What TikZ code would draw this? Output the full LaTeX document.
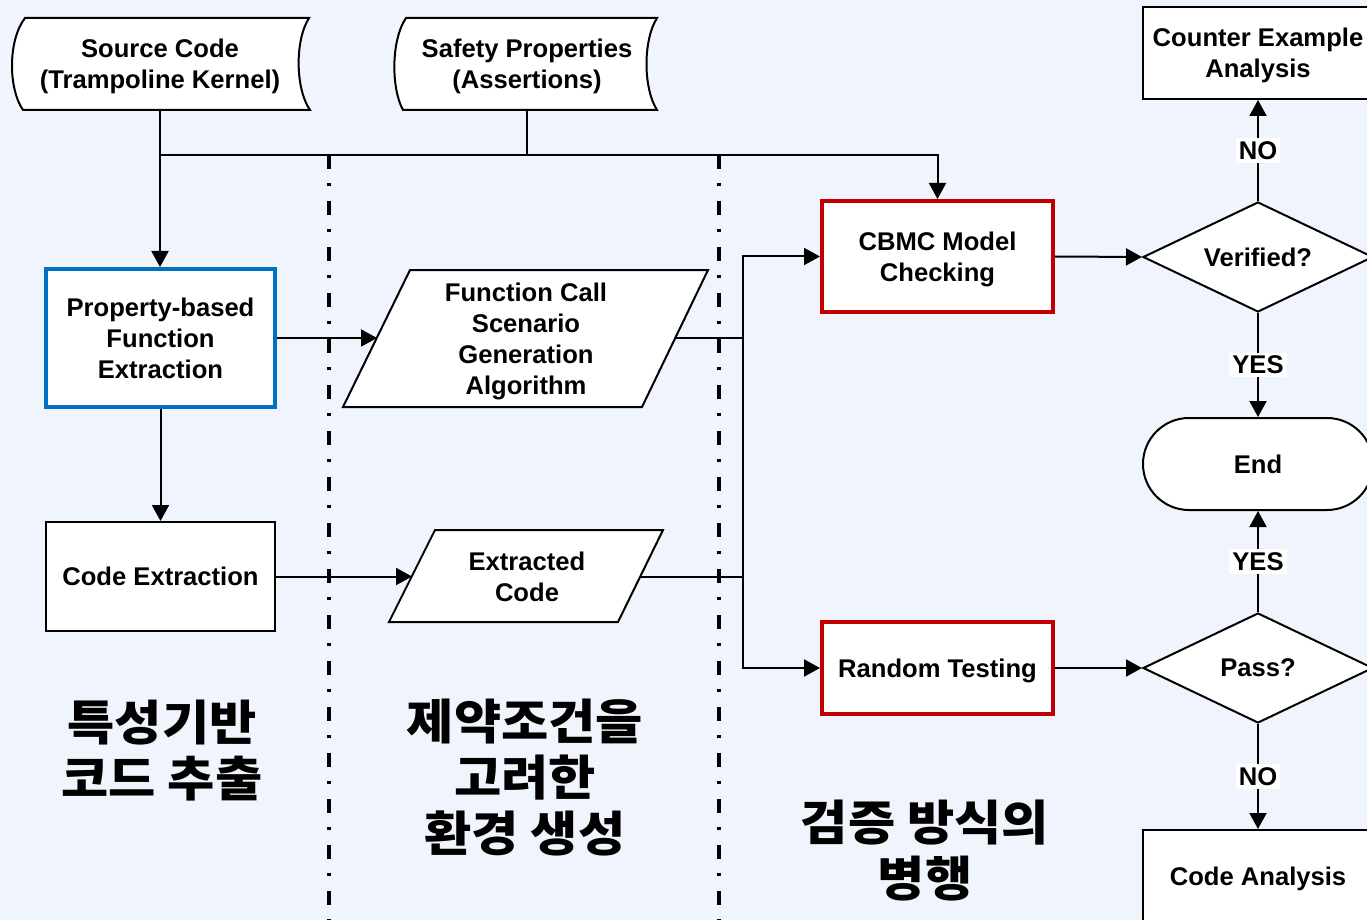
\documentclass[tikz,border=0pt]{standalone}
\usepackage{fontspec}
\setmainfont{Liberation Sans}
\newfontfamily\kr{Noto Sans CJK KR}[FakeStretch=1.07]
\usetikzlibrary{arrows.meta,shapes.geometric,shapes.misc}
\definecolor{bgcol}{RGB}{240,244,252}
\definecolor{boxblue}{RGB}{0,112,192}
\definecolor{boxred}{RGB}{192,0,0}
\begin{document}
\begin{tikzpicture}[x=0.5pt,y=-0.5pt,
  lbl/.style={font=\fontsize{12.8}{15.5}\selectfont\bfseries, align=center},
  proc/.style={lbl, draw=black, line width=1pt, fill=white, inner sep=0pt},
  hl/.style={proc, line width=2pt},
  decide/.style={lbl, diamond, aspect=2, draw=black, line width=1pt, fill=white,
    inner sep=0pt, minimum width=115pt, minimum height=55pt},
  flow/.style={line width=1pt, -{Triangle[length=8pt,width=8.5pt]}},
  link/.style={line width=1pt},
  lane/.style={line width=1.8pt, dash pattern=on 7pt off 7pt on 1.5pt off 7.5pt},
  ans/.style={lbl, fill=white, inner sep=1.5pt},
  title/.style={font=\kr\fontsize{24}{28}\selectfont\bfseries, align=center},
  shapeline/.style={draw=black, line width=1pt, fill=white},
  flat/.style={text depth=0pt}
]
\clip (0,0) rectangle (1367,920);
\fill[bgcol] (0,0) rectangle (1367,920);

% swim-lane separators
\draw[lane] (329,155) -- (329,920);
\draw[lane] (719,155) -- (719,920);

% stored-data inputs
\draw[shapeline] (25,18) -- (309,18) .. controls (295,40) and (295,88) .. (310,110)
  -- (23,110) .. controls (8,88) and (8,40) .. (25,18) -- cycle;
\node[lbl, flat, minimum width=149pt, minimum height=46pt] (src) at (160,64)
  {Source Code\\(Trampoline Kernel)};
\draw[shapeline] (406,18) -- (657,18) .. controls (643,40) and (643,88) .. (657,110)
  -- (403,110) .. controls (391,88) and (391,40) .. (406,18) -- cycle;
\node[lbl, flat, minimum height=46pt] (safe) at (527,64)
  {Safety Properties\\(Assertions)};

% extraction column
\node[hl, draw=boxblue, minimum width=114.5pt, minimum height=69pt] (prop) at (160.5,338)
  {Property-based\\Function\\Extraction};
\node[proc, minimum width=114.5pt, minimum height=54.5pt] (cext) at (160.5,576.5)
  {Code Extraction};

% environment generation column (parallelograms)
\draw[shapeline] (410,270) -- (708,270) -- (642,407) -- (343,407) -- cycle;
\node[lbl, flat] (fc) at (526,338.5) {Function Call\\Scenario\\Generation\\Algorithm};
\coordinate (fc-w) at (377,338);
\coordinate (fc-e) at (675,338);
\draw[shapeline] (435,530) -- (663,530) -- (618,622) -- (389,622) -- cycle;
\node[lbl] (ec) at (527,577) {Extracted\\Code};
\coordinate (ec-w) at (412,576.5);
\coordinate (ec-e) at (640,576.5);

% verification column
\node[hl, flat, draw=boxred, minimum width=115.5pt, minimum height=55.5pt] (cbmc) at (937.5,256.5)
  {CBMC Model\\Checking};
\node[hl, flat, draw=boxred, minimum width=115.5pt, minimum height=46pt] (rand) at (937.5,668)
  {Random Testing};

% decisions and outcomes
\node[decide] (ver) at (1258,257) {Verified?};
\node[proc, flat, minimum width=115pt, minimum height=46pt] (cex) at (1258,53)
  {Counter Example\\Analysis};
\node[proc, rounded rectangle, minimum width=115pt, minimum height=46pt] (end) at (1258,464) {End};
\node[decide] (pass) at (1258,668) {Pass?};
\node[proc, flat, minimum width=115pt, minimum height=46pt] (ca) at (1258,876) {Code Analysis};

% connectors
\coordinate (bus) at (0,155);
\coordinate (vbus) at (743,0);
\draw[flow] (src.south) -- (src.south |- prop.north);
\draw[flow] (src.south |- bus) -| (cbmc.north);
\draw[link] (safe.south) -- (safe.south |- bus);
\draw[flow] (prop.east) -- (fc-w);
\draw[flow] (prop.south) -- (cext.north);
\draw[flow] (cext.east) -- (ec-w);
\draw[link] (fc-e) -- (fc-e -| vbus);
\draw[link] (ec-e) -- (ec-e -| vbus);
\draw[flow] (fc-e -| vbus) |- (cbmc.west);
\draw[flow] (fc-e -| vbus) |- (rand.west);
\draw[flow] (cbmc.east) -- (ver.west);
\draw[flow] (rand.east) -- (pass.west);
\draw[flow] (ver.north) -- node[ans] {NO} (cex.south);
\draw[flow] (ver.south) -- node[ans] {YES} (end.north);
\draw[flow] (pass.north) -- node[ans] {YES} (end.south);
\draw[flow] (pass.south) -- node[ans] {NO} (ca.north);

% lane titles
\node[title] (t1) at (162,751) {특성기반\\코드 추출};
\node[title] (t2) at (525,778) {제약조건을\\고려한\\환경 생성};
\node[title] (t3) at (925,851) {검증 방식의\\병행};
\end{tikzpicture}
\end{document}
